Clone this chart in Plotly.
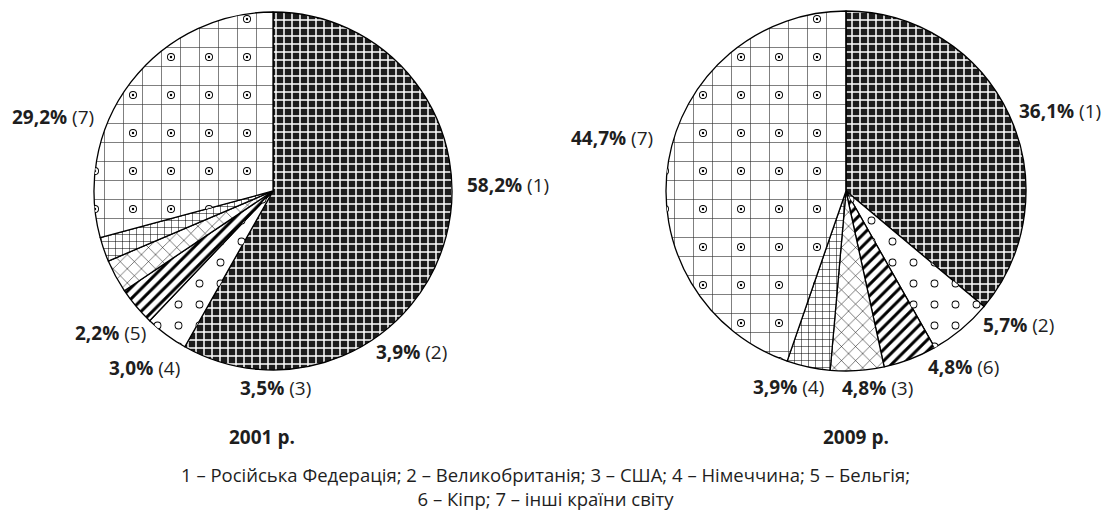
import math
import plotly.graph_objects as go

# ---------------- data ----------------
legend_names = ["Російська Федерація", "Великобританія", "США", "Німеччина",
                "Бельгія", "Кіпр", "інші країни світу"]

years = ["2001 р.", "2009 р."]

codes_2001 = [1, 2, 3, 4, 5, 7]
share_2001 = [58.2, 3.9, 3.5, 3.0, 2.2, 29.2]

codes_2009 = [1, 2, 6, 3, 4, 7]
share_2009 = [36.1, 5.7, 4.8, 4.8, 3.9, 44.7]

# ---------------- layout / style ----------------
W, H = 1107, 525
FONT = "Open Sans"
INK = "#1e1e1e"

# pie centres and radii in pixels
pie_geom = [(273, 191, 179), (846, 191, 180)]

# label anchor positions (pixel centres) for each slice, in slice order
label_pos = [
    [(508, 185), (411, 352), (275, 388), (144, 368), (110, 333), (53, 117)],
    [(1060, 111), (1018, 325), (963, 367), (877, 388), (788, 387), (612, 138)],
]
title_pos = [(262, 437), (856, 437)]
legend_pos = (545, 486)

# base pattern per slice position: dark grid, open circles, dashes, crosshatch, fine grid, bricks
base_shape = ["+", "", "/", "x", "+", "+"]
base_fg = ["white", "black", "black", "black", "black", "#333333"]
base_bg = ["#1c1c1c", "white", "white", "white", "white", "white"]
base_size = [8, 20, 8, 10, 7, 19]
base_sol = [0.34, 0.0, 0.38, 0.1, 0.14, 0.065]


def sol(r, s):
    return math.pi * r * r / (s * s)


# overlay layers that draw ringed dots (circles slice and bricks slice)
overlays = [
    # (colour, {slice index: (tile size, radius)})
    ("black", {1: (21, 3.9), 5: (38, 4.0)}),
    ("white", {1: (21, 3.0), 5: (38, 3.1)}),
    ("black", {5: (38, 1.2)}),
]


def to_paper(px, py):
    return px / W, 1 - py / H


fig = go.Figure()
annotations = []

for k, (codes, shares) in enumerate([(codes_2001, share_2001), (codes_2009, share_2009)]):
    cx, cy, r = pie_geom[k]
    x0, y1 = to_paper(cx - r, cy - r)
    x1, y0 = to_paper(cx + r, cy + r)
    dom = dict(x=[x0, x1], y=[y0, y1])
    labels = [legend_names[c - 1] for c in codes]

    fig.add_trace(go.Pie(
        labels=labels, values=shares, sort=False, direction="clockwise", rotation=0,
        domain=dom, textinfo="none", hoverinfo="label+percent", showlegend=False,
        marker=dict(
            colors=base_bg,
            line=dict(color="black", width=1.3),
            pattern=dict(shape=base_shape, fgcolor=base_fg, bgcolor=base_bg,
                         size=base_size, solidity=base_sol, fillmode="replace"),
        ),
    ))

    n = len(shares)
    for color, spec in overlays:
        shapes = [""] * n
        sizes = [8] * n
        sols = [0.0] * n
        for idx, (s, rad) in spec.items():
            shapes[idx] = "."
            sizes[idx] = s
            sols[idx] = sol(rad, s)
        fig.add_trace(go.Pie(
            labels=labels, values=shares, sort=False, direction="clockwise", rotation=0,
            domain=dom, textinfo="none", hoverinfo="skip", showlegend=False,
            marker=dict(
                colors=["rgba(0,0,0,0)"] * n,
                line=dict(color="rgba(0,0,0,0)", width=0),
                pattern=dict(shape=shapes, fgcolor=color, bgcolor="rgba(0,0,0,0)",
                             size=sizes, solidity=sols, fillmode="replace"),
            ),
        ))

    for (px, py), c, v in zip(label_pos[k], codes, shares):
        ax, ay = to_paper(px, py)
        txt = f"<b>{v:.1f}%</b> ({c})".replace(".", ",")
        annotations.append(dict(x=ax, y=ay, xref="paper", yref="paper", text=txt,
                                showarrow=False, xanchor="center", yanchor="middle",
                                font=dict(family=FONT, size=19, color=INK)))

    tx, ty = to_paper(*title_pos[k])
    annotations.append(dict(x=tx, y=ty, xref="paper", yref="paper", text=f"<b>{years[k]}</b>",
                            showarrow=False, xanchor="center", yanchor="middle",
                            font=dict(family=FONT, size=19, color=INK)))

legend_line1 = "; ".join(f"{i + 1} – {nm}" for i, nm in enumerate(legend_names[:5])) + ";"
legend_line2 = "; ".join(f"{i + 6} – {nm}" for i, nm in enumerate(legend_names[5:]))
lx, ly = to_paper(*legend_pos)
annotations.append(dict(x=lx, y=ly, xref="paper", yref="paper",
                        text=legend_line1 + "<br>" + legend_line2,
                        showarrow=False, xanchor="center", yanchor="middle", align="center",
                        font=dict(family=FONT, size=18.5, color=INK)))

fig.update_layout(
    width=W, height=H, margin=dict(l=0, r=0, t=0, b=0),
    paper_bgcolor="white", plot_bgcolor="white",
    annotations=annotations, showlegend=False,
)

fig.write_html("out.html", config={"displayModeBar": False},
               post_script="document.body.style.margin='0px';")
